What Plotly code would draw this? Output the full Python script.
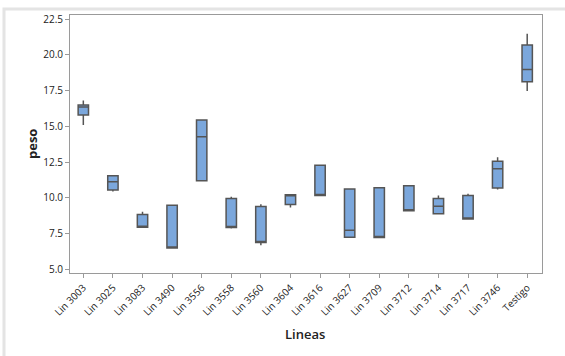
import plotly.graph_objects as go

# Five-number summaries of "peso" for each line
lineas = ["Lin 3003", "Lin 3025", "Lin 3083", "Lin 3490", "Lin 3556", "Lin 3558",
          "Lin 3560", "Lin 3604", "Lin 3616", "Lin 3627", "Lin 3709", "Lin 3712",
          "Lin 3714", "Lin 3717", "Lin 3746", "Testigo"]
minimo = [15.10, 10.45, 7.96, 6.51, 11.20, 7.87, 6.70, 9.34, 10.18, 7.26, 7.24, 9.10,
          8.89, 8.54, 10.60, 17.48]
q1 = [15.80, 10.55, 7.96, 6.51, 11.20, 7.94, 6.89, 9.55, 10.18, 7.26, 7.24, 9.10,
      8.89, 8.54, 10.69, 18.11]
mediana = [16.36, 11.13, 7.96, 6.51, 14.28, 7.94, 6.89, 10.22, 10.18, 7.75, 7.24, 9.10,
           9.43, 8.54, 12.04, 18.97]
q3 = [16.50, 11.55, 8.85, 9.50, 15.45, 9.97, 9.41, 10.22, 12.28, 10.62, 10.71, 10.85,
      9.97, 10.18, 12.56, 20.68]
maximo = [16.80, 11.55, 9.03, 9.50, 15.45, 10.08, 9.57, 10.22, 12.28, 10.66, 10.71, 10.85,
          10.18, 10.29, 12.84, 21.47]
y_ticks = [5.0, 7.5, 10.0, 12.5, 15.0, 17.5, 20.0, 22.5]

FONT = "Open Sans"

fig = go.Figure()
fig.add_trace(go.Box(
    x=lineas,
    q1=q1,
    median=mediana,
    q3=q3,
    lowerfence=minimo,
    upperfence=maximo,
    width=0.35,
    fillcolor="#7ba7dc",
    line=dict(color="#555555", width=1.5),
    whiskerwidth=0,
    boxpoints=False,
    hoverinfo="skip",
    showlegend=False,
))

axis_common = dict(
    showline=True,
    linecolor="#9a9a9a",
    linewidth=1,
    mirror=True,
    ticks="outside",
    ticklen=4,
    tickcolor="#9a9a9a",
    showgrid=False,
    zeroline=False,
    tickfont=dict(family=FONT, size=10, color="#222222"),
)

fig.update_xaxes(
    **axis_common,
    type="category",
    tickangle=-45,
    range=[-0.45, 15.5],
)
fig.update_yaxes(
    **axis_common,
    tickvals=y_ticks,
    tickformat=".1f",
    range=[4.76, 22.78],
)

# Outer light frame around the graph window
fig.add_shape(type="rect", xref="paper", yref="paper",
              x0=-66 / 472, x1=1.5, y0=1 + 6 / 258, y1=-1,
              line=dict(color="#e4e4e4", width=3), fillcolor="rgba(0,0,0,0)",
              layer="below")

fig.add_annotation(text="peso", xref="paper", yref="paper",
                   x=-38 / 472, y=0.5, xanchor="center", yanchor="middle",
                   textangle=-90, showarrow=False,
                   font=dict(family=FONT, size=13, color="#222222", weight=700))
fig.add_annotation(text="Lineas", xref="paper", yref="paper",
                   x=(305 - 70) / 472, y=-(334 - 273) / 258,
                   xanchor="center", yanchor="middle", showarrow=False,
                   font=dict(family=FONT, size=13, color="#222222", weight=600))

fig.update_layout(
    width=565,
    height=356,
    margin=dict(l=70, r=23, t=15, b=83),
    paper_bgcolor="white",
    plot_bgcolor="white",
)

fig.write_html("out.html")
